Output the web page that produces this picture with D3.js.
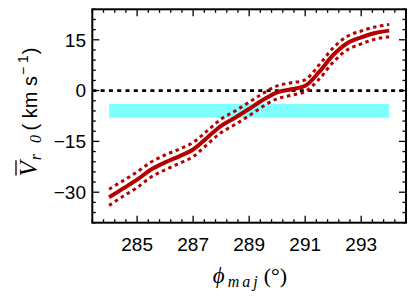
<!DOCTYPE html>
<html>
<head>
<meta charset="utf-8">
<script src="https://cdn.jsdelivr.net/npm/d3@7"></script>
<style>
  html, body { margin: 0; padding: 0; background: #fff; }
  svg { display: block; }
  .tick-label { font-family: "Liberation Sans", Arial, sans-serif; font-size: 19px; fill: #000; }
</style>
</head>
<body>
<div id="chart"></div>
<script>
// azimuth of major axis (deg)
const phiMaj = [284.0, 284.5, 285.0, 285.5, 286.0, 286.5, 287.0, 287.5, 288.0, 288.5, 289.0,
                289.5, 290.0, 290.5, 291.0, 291.5, 292.0, 292.5, 293.0, 293.5, 294.0];
// mean radial velocity (km/s)
const vr0 = [-31.5, -28.9, -26.3, -23.3, -21.2, -19.4, -17.4, -13.9, -10.4, -8.0, -5.4,
             -2.7, -0.5, 0.4, 1.4, 5.5, 10.5, 14.0, 15.7, 17.0, 17.7];
const vr0Upper = [-29.1, -26.6, -24.0, -21.1, -19.0, -17.3, -15.3, -11.9, -8.4, -6.0, -3.4,
                  -0.8, 1.4, 2.3, 3.2, 7.6, 12.6, 16.0, 17.6, 18.8, 19.5];
const vr0Lower = [-33.9, -31.2, -28.6, -25.5, -23.4, -21.5, -19.5, -15.9, -12.4, -10.0, -7.4,
                  -4.6, -2.4, -1.4, -0.3, 3.4, 8.4, 12.0, 13.8, 15.2, 15.9];
// shaded band
const bandX = [284.0, 294.0];
const bandY = [-8.0, -3.9];

const xTicks = [285, 287, 289, 291, 293];
const yTicks = [-30, -15, 0, 15];

const W = 415, H = 297;
const margin = { left: 92.3, right: 9, top: 9.3, bottom: 74.3 };
const RED = "#b40000";

const svg = d3.select("#chart").append("svg")
  .attr("width", W).attr("height", H);

const x = d3.scaleLinear().domain([283.4, 294.6]).range([margin.left, W - margin.right]);
const y = d3.scaleLinear().domain([-39, 24]).range([H - margin.bottom, margin.top]);

// cyan band
svg.append("rect")
  .attr("x", x(bandX[0])).attr("width", x(bandX[1]) - x(bandX[0]))
  .attr("y", y(bandY[1])).attr("height", y(bandY[0]) - y(bandY[1]))
  .attr("fill", "#80ffff");

// zero line
svg.append("line")
  .attr("x1", x(283.4)).attr("x2", x(294.6))
  .attr("y1", y(0)).attr("y2", y(0))
  .attr("stroke", "#000").attr("stroke-width", 2.6)
  .attr("stroke-dasharray", "4,4.3");

const line = d3.line()
  .x((d, i) => x(phiMaj[i]))
  .y(d => y(d))
  .curve(d3.curveCatmullRom.alpha(0.5));

[vr0Upper, vr0Lower].forEach(s => {
  svg.append("path").datum(s)
    .attr("d", line).attr("fill", "none")
    .attr("stroke", RED).attr("stroke-width", 3)
    .attr("stroke-dasharray", "3.5,3.5");
});
svg.append("path").datum(vr0)
  .attr("d", line).attr("fill", "none")
  .attr("stroke", RED).attr("stroke-width", 4);

// ticks on all four sides, pointing in
const x0 = margin.left, x1 = W - margin.right, y0 = margin.top, y1 = H - margin.bottom;
const xMinor = d3.range(0, 29).map(k => 283.4 + 0.4 * k);
const yMinor = d3.range(-39, 25, 3);
const tickG = svg.append("g").attr("stroke", "#000").attr("stroke-width", 1.3);

xMinor.forEach(v => {
  const major = xTicks.some(t => Math.abs(t - v) < 1e-6);
  const len = major ? 7 : 3.5;
  tickG.append("line").attr("x1", x(v)).attr("x2", x(v)).attr("y1", y1).attr("y2", y1 - len);
  tickG.append("line").attr("x1", x(v)).attr("x2", x(v)).attr("y1", y0).attr("y2", y0 + len);
});
yMinor.forEach(v => {
  const major = yTicks.includes(v);
  const len = major ? 7 : 3.5;
  tickG.append("line").attr("y1", y(v)).attr("y2", y(v)).attr("x1", x0).attr("x2", x0 + len);
  tickG.append("line").attr("y1", y(v)).attr("y2", y(v)).attr("x1", x1).attr("x2", x1 - len);
});

// frame
svg.append("rect")
  .attr("x", x0).attr("y", y0).attr("width", x1 - x0).attr("height", y1 - y0)
  .attr("fill", "none").attr("stroke", "#000").attr("stroke-width", 2);

// tick labels
svg.selectAll(".xl").data(xTicks).enter().append("text")
  .attr("class", "tick-label")
  .attr("x", d => x(d)).attr("y", 250.5)
  .attr("text-anchor", "middle")
  .text(d => d);

svg.selectAll(".yl").data(yTicks).enter().append("text")
  .attr("class", "tick-label")
  .attr("x", 86).attr("y", d => y(d) + 6.8)
  .attr("text-anchor", "end")
  .text(d => d < 0 ? "\u2212" + Math.abs(d) : d);

// x title
const xt = svg.append("text")
  .attr("x", 250).attr("y", 283)
  .attr("text-anchor", "middle")
  .style("font-family", "'Liberation Serif', serif");
xt.append("tspan").style("font-style", "italic").style("font-size", "23px").text("\u03d5");
xt.append("tspan").style("font-style", "italic").style("font-size", "16px")
  .attr("dy", 4).attr("dx", 3).style("letter-spacing", "3px").text("maj");
xt.append("tspan").style("font-size", "22px").attr("dy", -4).attr("dx", 3).text("(\u00b0)");

// y title
const yg = svg.append("g").attr("transform", "translate(37,112) rotate(-90)");
const yt = yg.append("text").attr("x", 0).attr("y", 0).attr("text-anchor", "middle");
const vSpan = yt.append("tspan")
  .style("font-family", "'Liberation Serif', serif")
  .style("font-style", "italic").style("font-size", "25px").text("V");
yt.append("tspan")
  .style("font-family", "'Liberation Serif', serif")
  .style("font-style", "italic").style("font-size", "16px")
  .attr("dy", 4).attr("dx", 1).style("letter-spacing", "3.5px").text("r 0");
yt.append("tspan")
  .style("font-family", "'Liberation Sans', sans-serif").style("font-size", "20px")
  .attr("dy", -4).attr("dx", 1).text("( km  s");
yt.append("tspan")
  .style("font-family", "'Liberation Sans', sans-serif").style("font-size", "14px")
  .attr("dy", -9).attr("dx", 1).text("\u2212 1");
yt.append("tspan")
  .style("font-family", "'Liberation Sans', sans-serif").style("font-size", "20px")
  .attr("dy", 9).attr("dx", 1).text(")");

// overbar on V
const vNode = vSpan.node();
const p0 = vNode.getStartPositionOfChar(0);
const p1 = vNode.getEndPositionOfChar(0);
yg.append("line")
  .attr("x1", p0.x + 1).attr("x2", p1.x + 1)
  .attr("y1", -21).attr("y2", -21)
  .attr("stroke", "#000").attr("stroke-width", 1.3);
</script>
</body>
</html>
